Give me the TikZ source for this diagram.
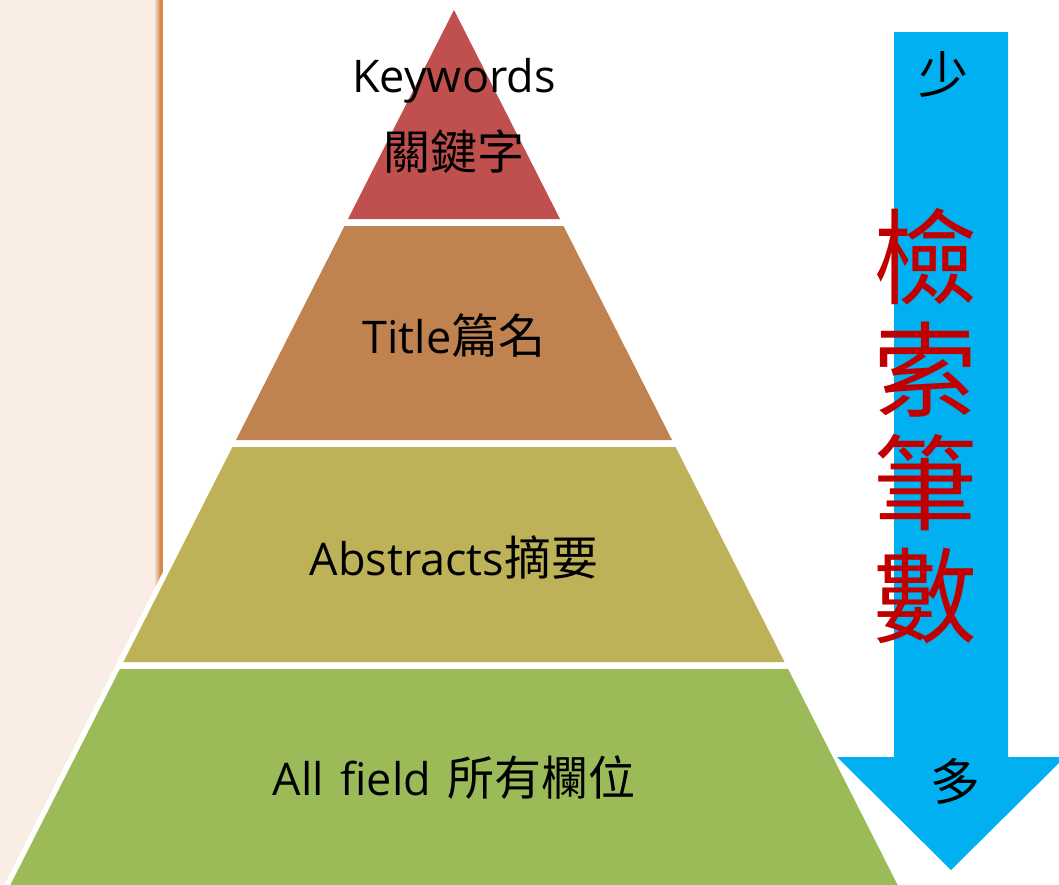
\documentclass[tikz,border=0pt]{standalone}
\usepackage{fontspec}
\setmainfont{Open Sans}[Ligatures=NoCommon]
\newfontfamily\cjk{Noto Sans CJK TC}
\usepackage{tikz}

\definecolor{tierred}{RGB}{192,80,77}
\definecolor{tierbrown}{RGB}{192,131,80}
\definecolor{tierolive}{RGB}{190,178,88}
\definecolor{tiergreen}{RGB}{155,187,89}
\definecolor{arrowblue}{RGB}{0,176,240}
\definecolor{countred}{RGB}{192,0,0}
\definecolor{paper}{RGB}{250,237,229}
\definecolor{paperedge}{RGB}{214,137,75}

\newcommand{\zh}[1]{{\cjk\fontsize{47}{77}\selectfont #1}}

\tikzset{
  tiertext/.style={font=\fontsize{45}{77}\selectfont, text=black, align=center, inner sep=0pt},
  endtext/.style={font=\cjk\fontsize{50}{50}\selectfont, text=black, inner sep=0pt},
}

\begin{document}
\begin{tikzpicture}[x=1pt, y=-1pt]
\clip (0,0) rectangle (1059,884);
\fill [white] (0,0) rectangle (1059,884);

% paper strip on the left
\fill [paper] (0,0) rectangle (160,884);
\shade [left color=paper, right color=paperedge] (154,0) rectangle (160,884);
\fill [paperedge] (160,0) rectangle (163,884);

% pyramid
\fill [white] (454,-2) -- (1.8,890) -- (906.2,890) -- cycle;
\fill [tierred] (454,10) -- (560,219) -- (348,219) -- cycle;
\foreach \ya/\yb/\col in {226/440/tierbrown, 447/662/tierolive, 669/890/tiergreen}
  \fill [\col] ({454-0.507*(\ya-10)},\ya) -- ({454+0.507*(\ya-10)},\ya)
    -- ({454+0.507*(\yb-10)},\yb) -- ({454-0.507*(\yb-10)},\yb) -- cycle;

\node [tiertext] (kw) at (454,116) {Keywords\\\zh{關鍵字}};
\node [tiertext] (ti) at (454,336) {Title\zh{篇名}};
\node [tiertext] (ab) at (454,557) {Abstracts\zh{摘要}};
\node [tiertext] (af) at (454,778) {All\hspace{0.1em} field\hspace{0.1em} \zh{所有欄位}};

% arrow
\fill [arrowblue] (894,32) -- (1008,32) -- (1008,757) -- (1065,757) -- (951,870)
  -- (837,757) -- (894,757) -- cycle;
\node [endtext] (few) at (943,74) {少};
\node [endtext] (many) at (955,781) {多};
\node [font=\cjk\fontsize{104}{113}\selectfont, text=countred, align=center, inner sep=0pt]
  (count) at (925,426) {檢\\索\\筆\\數};
\end{tikzpicture}
\end{document}
